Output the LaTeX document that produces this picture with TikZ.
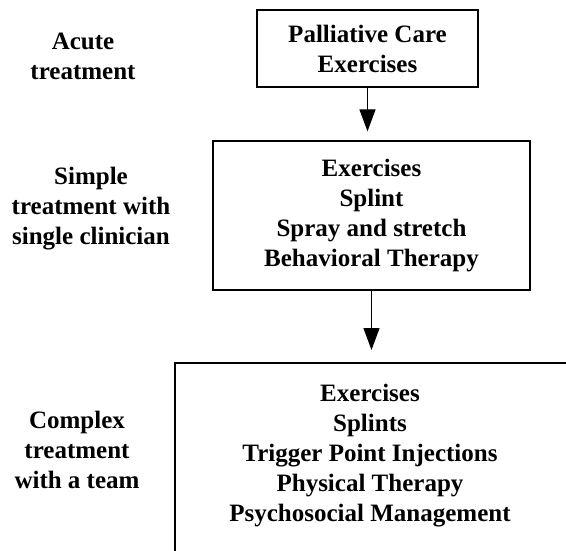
\documentclass[tikz,border=0pt]{standalone}
\usepackage{fontspec}
\setmainfont{Liberation Serif}
\usetikzlibrary{arrows.meta, positioning}
\tikzset{%
	stage box/.style={
		draw,
		line width=1.2pt,
		align=center,
		font=\bfseries\fontsize{25}{30}\selectfont
	},
	stage label/.style={
		align=center,
		font=\bfseries\fontsize{25}{30}\selectfont
	},
	flow/.style={
		line width=1.2pt,
		-{Triangle[width=16pt,length=22pt]}
	},
}

\begin{document}
\begin{tikzpicture}[x=1pt, y=-1pt]
	\useasboundingbox (0,0) rectangle (566,551);
	
	% Treatment boxes
	\node[stage box, minimum width=221pt, minimum height=77pt] (acutebox) at (367.5,48.5) {Palliative Care\\Exercises};
	\node[stage box, minimum width=317pt, minimum height=149pt] (simplebox) at (371.5,215.5) {Exercises\\Splint\\Spray and stretch\\Behavioral Therapy};
	
	% Open box for the team
	\coordinate (teamcorner) at (175,363);
	\draw[line width=1.2pt] (566,363) -- (teamcorner) -- (175,551);
	\node[stage label] (teamlist) at (370,456) {Exercises\\Splints\\Trigger Point Injections\\Physical Therapy\\Psychosocial Management};
	
	% Labels on the left
	\node[stage label] (acute) at (83,56) {Acute\\treatment};
	\node[stage label] (simple) at (91,209) {Simple\\treatment with\\single clinician};
	\node[stage label] (complex) at (77,450) {Complex\\treatment\\with a team};
	
	% Arrows
	\draw[flow, shorten >=9pt] (acutebox.south) -- (acutebox.south |- simplebox.north);
	\draw[flow, shorten >=13pt] (simplebox.south) -- (simplebox.south |- teamcorner);
\end{tikzpicture}
\end{document}
